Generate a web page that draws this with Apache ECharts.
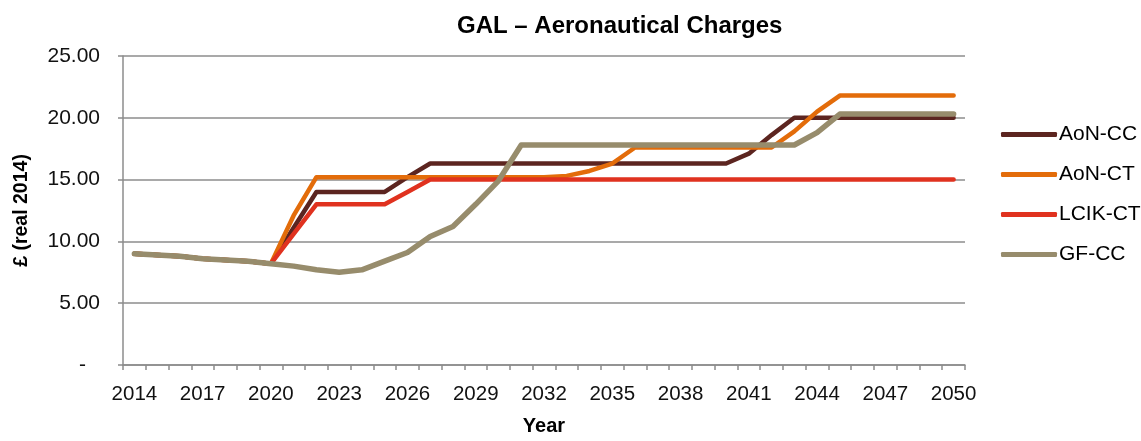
<!DOCTYPE html>
<html>
<head>
<meta charset="utf-8">
<script src="https://cdn.jsdelivr.net/npm/echarts@6/dist/echarts.min.js"></script>
<style>html,body{margin:0;padding:0;background:#fff;}#c{width:1141px;height:441px;}</style>
</head>
<body>
<div id="c"></div>
<script>
var years = ['2014','2015','2016','2017','2018','2019','2020','2021','2022','2023','2024','2025','2026','2027','2028','2029','2030','2031','2032','2033','2034','2035','2036','2037','2038','2039','2040','2041','2042','2043','2044','2045','2046','2047','2048','2049','2050'];
var aonCC  = [9.0,8.9,8.8,8.6,8.5,8.4,8.2, 11.1, 14.0,14.0,14.0,14.0, 15.2, 16.3,16.3,16.3,16.3,16.3,16.3,16.3,16.3,16.3,16.3,16.3,16.3,16.3,16.3, 17.1, 18.6, 20.0,20.0,20.0,20.0,20.0,20.0,20.0,20.0];
var aonCT  = [9.0,8.9,8.8,8.6,8.5,8.4,8.2, 12.1, 15.2,15.2,15.2,15.2,15.2,15.2,15.2,15.2,15.2,15.2,15.2, 15.3, 15.7, 16.3, 17.6,17.6,17.6,17.6,17.6,17.6,17.6, 18.9, 20.5, 21.8,21.8,21.8,21.8,21.8,21.8];
var lcikCT = [9.0,8.9,8.8,8.6,8.5,8.4,8.2, 10.6, 13.0,13.0,13.0,13.0, 14.0, 15.0,15.0,15.0,15.0,15.0,15.0,15.0,15.0,15.0,15.0,15.0,15.0,15.0,15.0,15.0,15.0,15.0,15.0,15.0,15.0,15.0,15.0,15.0,15.0];
var gfCC   = [9.0,8.9,8.8,8.6,8.5,8.4,8.2, 8.0, 7.7, 7.5, 7.7, 8.4, 9.1, 10.4, 11.2, 13.0, 14.9, 17.8,17.8,17.8,17.8,17.8,17.8,17.8,17.8,17.8,17.8,17.8,17.8,17.8, 18.8, 20.3,20.3,20.3,20.3,20.3,20.3];
var seriesNames = ['AoN-CC','AoN-CT','LCIK-CT','GF-CC'];
var seriesData = [aonCC, aonCT, lcikCT, gfCC];
var colors = ['#5C2520','#E36C0A','#E0321F','#978C6C'];
var widths = [4.5, 4.5, 4.5, 5.5];

var FONT = 'Liberation Sans, Arial, sans-serif';
var chart = echarts.init(document.getElementById('c'), null, {renderer:'canvas'});
chart.setOption({
  backgroundColor: '#fff',
  animation: false,
  color: colors,
  title: {
    text: 'GAL \u2013 Aeronautical Charges',
    left: 452, top: 9,
    textStyle: {fontFamily: FONT, fontSize: 24, fontWeight: 'bold', color: '#000'}
  },
  legend: {
    orient: 'vertical',
    left: 996, top: 119,
    itemWidth: 56, itemHeight: 5, itemGap: 19,
    icon: 'roundRect',
    textStyle: {fontFamily: FONT, fontSize: 21, color: '#000', padding:[0,0,0,-3]},
    data: seriesNames
  },
  grid: {left: 123, right: 176, top: 56, bottom: 67, containLabel: false},
  xAxis: {
    type: 'category',
    data: years,
    boundaryGap: true,
    name: 'Year',
    nameLocation: 'middle',
    nameGap: 51,
    nameTextStyle: {fontFamily: FONT, fontSize: 20, fontWeight: 'bold', color: '#000'},
    axisLine: {lineStyle: {color: '#8c8c8c', width: 1.5}},
    axisTick: {show: true, interval: 0, length: 5, lineStyle: {color: '#8c8c8c', width: 1.5}},
    axisLabel: {interval: 2, margin: 19, fontFamily: FONT, fontSize: 20.5, color: '#111'},
    splitLine: {show: false}
  },
  yAxis: {
    type: 'value',
    min: 0, max: 25, interval: 5,
    name: '\u00a3 (real 2014)',
    nameLocation: 'middle',
    nameGap: 91,
    nameRotate: 90,
    nameTextStyle: {fontFamily: FONT, fontSize: 19.5, fontWeight: 'bold', color: '#000'},
    axisLine: {show: true, lineStyle: {color: '#8c8c8c', width: 1.5}},
    axisTick: {show: true, length: 5, lineStyle: {color: '#8c8c8c', width: 1.5}},
    axisLabel: {
      margin: 23, fontFamily: FONT, fontSize: 21, color: '#111',
      formatter: function(v){ return v === 0 ? '{d|-}' : v.toFixed(2); },
      rich: {d: {fontFamily: FONT, fontSize: 21, color: '#111', padding: [0, 14, 0, 0]}}
    },
    splitLine: {show: true, lineStyle: {color: '#8c8c8c', width: 1.5}}
  },
  series: seriesNames.map(function(n, i){
    return {
      name: n, type: 'line', data: seriesData[i],
      showSymbol: false, symbol: 'none', smooth: false,
      lineStyle: {color: colors[i], width: widths[i], cap: 'round', join: 'round'},
      itemStyle: {color: colors[i]},
      z: 2 + i
    };
  })
});
</script>
</body>
</html>
